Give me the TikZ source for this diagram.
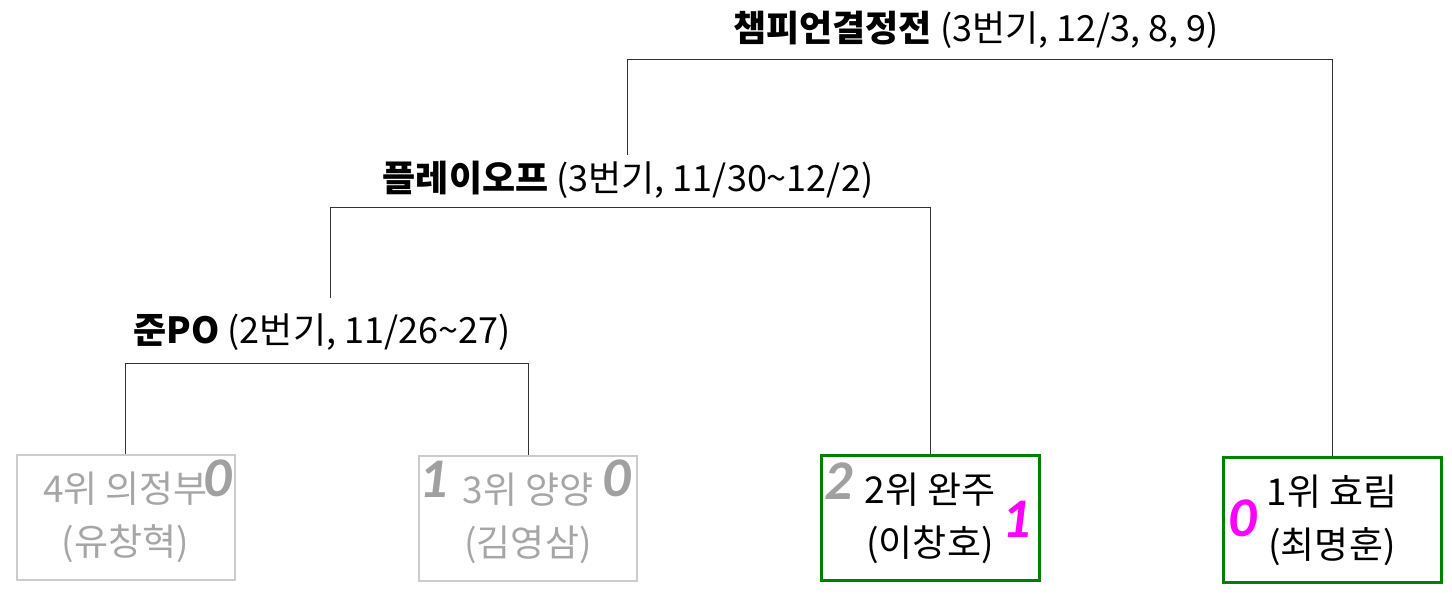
\documentclass[tikz,border=0pt]{standalone}
\usepackage{fontspec}
\setmainfont{Noto Sans CJK KR}
\newfontfamily\scorefont{Carlito}
\usetikzlibrary{positioning}

\definecolor{wingreen}{RGB}{0,128,0}
\definecolor{outtext}{RGB}{166,166,166}
\definecolor{outline}{RGB}{204,204,204}
\definecolor{scoregray}{RGB}{160,160,160}
\definecolor{scorepink}{RGB}{255,0,255}

\tikzset{
  team/.style={draw, minimum width=218pt, minimum height=125pt, inner sep=0pt,
    align=center, font=\fontsize{37}{53}\selectfont},
  outteam/.style={team, draw=outline, line width=2pt, text=outtext},
  winteam/.style={team, draw=wingreen, line width=3pt},
  score/.style={font=\scorefont\fontsize{56}{56}\selectfont\bfseries\itshape, inner sep=0pt},
  roundlabel/.style={font=\fontsize{36}{40}\selectfont, inner sep=0pt},
  bracket/.style={line width=1pt, draw=black!80}
}

\begin{document}
\begin{tikzpicture}[x=1pt, y=-1pt]
  \useasboundingbox (0,0) rectangle (1452,594);

  %%%%% TEAMS %%%%%
  \node[outteam] (uijeongbu) at (125.5,517.5) {4위 의정부\\(유창혁)};
  \node[outteam] (yangyang)  at (528,518)     {3위 양양\\(김영삼)};
  \node[winteam] (wanju)     at (930,518)     {2위 완주\\(이창호)};
  \node[winteam] (hyorim)    at (1332,520)    {1위 효림\\(최명훈)};

  %%%%% SCORES %%%%%
  \node[score, text=scoregray] (s4r) at (218,478) {0};
  \node[score, text=scoregray] (s3l) at (434,479) {1};
  \node[score, text=scoregray] (s3r) at (617,478) {0};
  \node[score, text=scoregray] (s2l) at (839,481) {2};
  \node[score, text=scorepink] (s2r) at (1017,519) {1};
  \node[score, text=scorepink] (s1l) at (1243,518) {0};

  %%%%% ROUNDS %%%%%
  \node[roundlabel] (junpo)  at (322,332) {\bfseries 준PO\mdseries{} (2번기, 11/26\textasciitilde 27)};
  \node[roundlabel] (playoff) at (628,180) {\bfseries 플레이오프\mdseries{} (3번기, 11/30\textasciitilde 12/2)};
  \node[roundlabel] (final)  at (976,30)  {\bfseries 챔피언결정전\mdseries{} (3번기, 12/3, 8, 9)};

  \coordinate (junbar) at (0,363);
  \coordinate (plbar) at (0,207);
  \coordinate (finbar) at (0,60);
  \coordinate (junup) at (330,298);
  \coordinate (plup) at (627,155);

  %%%%% BRACKETS %%%%%
  \draw[bracket] (uijeongbu.north) -- (uijeongbu.north |- junbar) -| (yangyang.north);
  \draw[bracket] (junup) |- (wanju.north |- plbar) -- (wanju.north);
  \draw[bracket] (plup) |- (hyorim.north |- finbar) -- (hyorim.north);
\end{tikzpicture}
\end{document}
